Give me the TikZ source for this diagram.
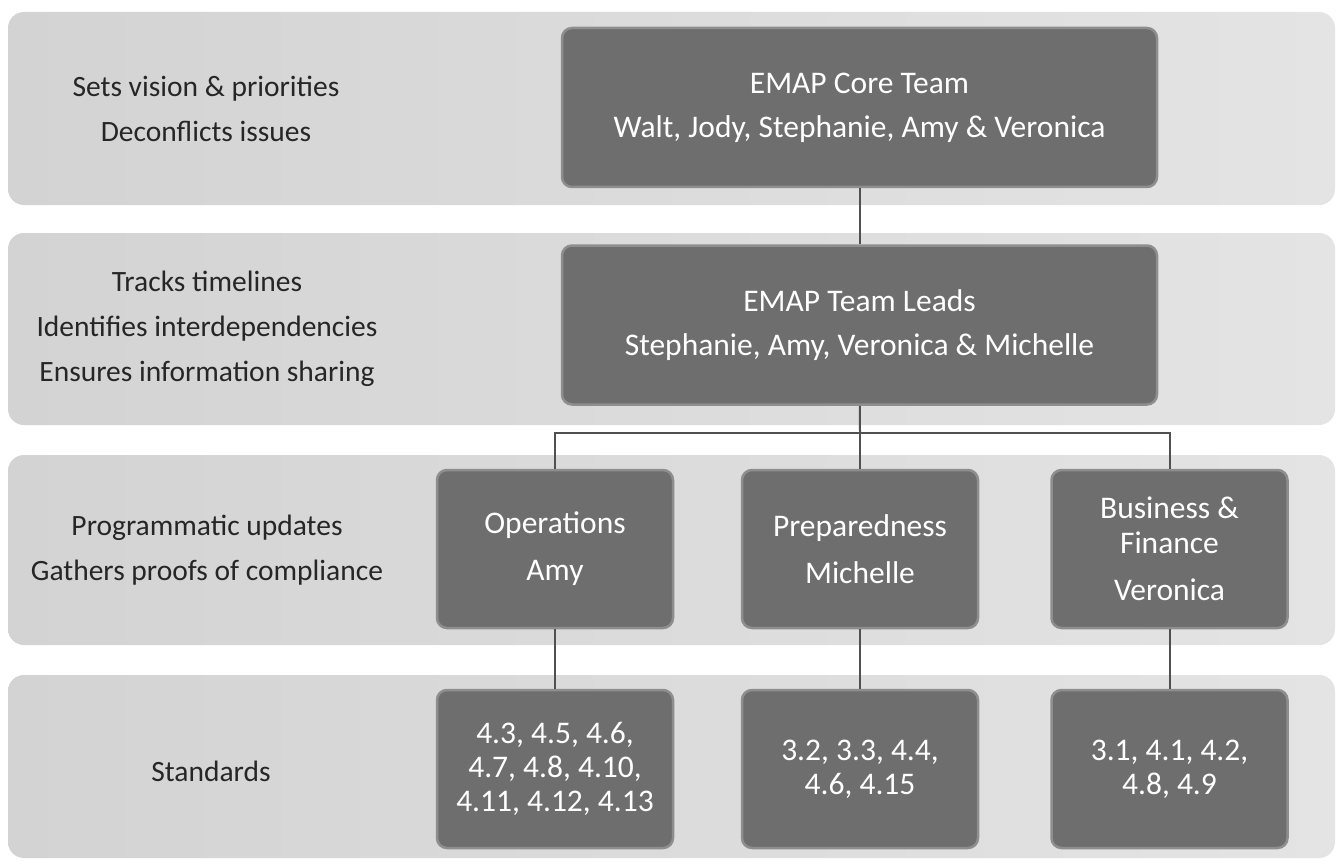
\documentclass[tikz,border=0pt]{standalone}
\usepackage{fontspec}
\setmainfont{Carlito}
\usetikzlibrary{positioning}
\definecolor{bandgray}{HTML}{D3D3D3}
\definecolor{bandlight}{HTML}{E4E4E4}
\definecolor{boxgray}{HTML}{6E6E6E}
\definecolor{boxedge}{HTML}{8E8E8E}
\definecolor{textdark}{HTML}{262626}
\definecolor{linegray}{HTML}{505050}
\tikzset{
  band/.style={left color=bandgray, right color=bandlight, rounded corners=16pt,
    minimum width=1327pt, inner sep=0pt},
  teambox/.style={fill=boxgray, draw=boxedge, line width=2.5pt, rounded corners=10pt,
    text=white, align=center, inner sep=0pt, minimum width=595pt, minimum height=159pt,
    font=\fontsize{31.5}{44}\selectfont},
  unitbox/.style={teambox, minimum width=236pt, minimum height=158pt,
    font=\fontsize{31.5}{47}\selectfont},
  stdbox/.style={unitbox, font=\fontsize{31.5}{34}\selectfont},
  role/.style={text=textdark, align=center, font=\fontsize{29.5}{45}\selectfont},
  link/.style={draw=linegray, line width=2pt}
}
\begin{document}
\begin{tikzpicture}[x=1pt, y=-1pt]
  \useasboundingbox[fill=white] (0,0) rectangle (1340,861);
  % bands
  \node[band, minimum height=193pt] (vision) at (671.5,108.5) {};
  \node[band, minimum height=192pt] (track) at (671.5,329) {};
  \node[band, minimum height=190pt] (update) at (671.5,550) {};
  \node[band, minimum height=183pt] (standard) at (671.5,766.5) {};
  % what each level does
  \node[role] (visiontxt) at (206,109) {Sets vision \& priorities\\Deconflicts issues};
  \node[role] (tracktxt) at (207,329) {Tracks timelines\\Identifies interdependencies\\Ensures information sharing};
  \node[role] (updatetxt) at (207,550) {Programmatic updates\\Gathers proofs of compliance};
  \node[role] (standardtxt) at (211,771) {Standards};
  % teams
  \node[teambox] (core) at (859.5,107.5) {EMAP Core Team\\Walt, Jody, Stephanie, Amy \& Veronica};
  \node[teambox] (lead) at (859.5,325) {EMAP Team Leads\\Stephanie, Amy, Veronica \& Michelle};
  \node[unitbox] (ops) at (555,549) {Operations\\Amy};
  \node[unitbox] (prep) at (860,549) {Preparedness\\Michelle};
  \node[unitbox] (bizfin) at (1169.5,549) {Business \&\\[-12pt]Finance\\Veronica};
  \node[stdbox] (opsstd) at (555,769) {4.3, 4.5, 4.6,\\4.7, 4.8, 4.10,\\4.11, 4.12, 4.13};
  \node[stdbox] (prepstd) at (860,769) {3.2, 3.3, 4.4,\\4.6, 4.15};
  \node[stdbox] (bizfinstd) at (1169.5,769) {3.1, 4.1, 4.2,\\4.8, 4.9};
  % connectors
  \coordinate (fork) at (860,433);
  \draw[link] (core) -- (lead);
  \draw[link] (lead) -- (fork);
  \draw[link] (ops.north) |- (fork) -| (bizfin.north);
  \draw[link] (fork) -- (prep.north);
  \draw[link] (ops) -- (opsstd);
  \draw[link] (prep) -- (prepstd);
  \draw[link] (bizfin) -- (bizfinstd);
\end{tikzpicture}
\end{document}
